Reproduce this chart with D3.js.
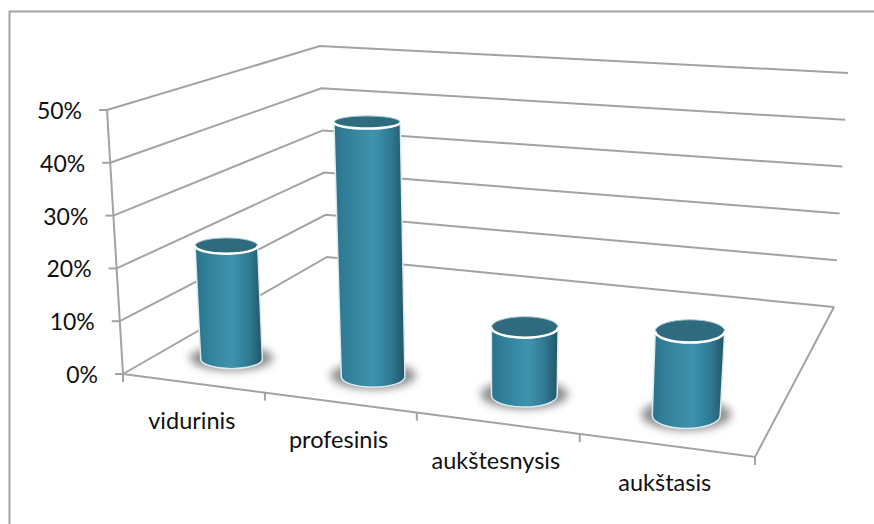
<!DOCTYPE html>
<html>
<head>
<meta charset="utf-8">
<title>Išsilavinimas</title>
<script src="https://cdn.jsdelivr.net/npm/d3@7"></script>
<style>
  html, body { margin: 0; padding: 0; background: #ffffff; }
  svg { display: block; }
  text { font-family: Lato, "Open Sans", sans-serif; fill: #111111; }
  text.ylabel { font-size: 23px; }
  text.xlabel { font-size: 23.5px; }
</style>
</head>
<body>
<div id="chart"></div>
<script>
////////////////////////////////////////////////////////////////////////
// Chart data
////////////////////////////////////////////////////////////////////////
var categories = ["vidurinis", "profesinis", "aukštesnysis", "aukštasis"];
var values = [22, 48, 12.5, 15];
var valueTicks = [0, 10, 20, 30, 40, 50];

////////////////////////////////////////////////////////////////////////
// The 3D box as it lies on screen: [front-left, front-right, back-right, back-left]
////////////////////////////////////////////////////////////////////////
var floorCorners = [[123, 374], [755, 457], [834, 307], [327, 257]];
var roofCorners = [[107, 110], [775, 158], [848, 73], [320, 46]];

var width = 874;
var height = 524;
var gridColor = "#a3a3a3";
var barDepth = 0.165;      //where the bars stand between front (0) and back (1)
var ellipseRatio = 0.0026;   //ellipse flatness per pixel of box depth


////////////////////////////////////////////////////////////////////////
//
// Build a function mapping the unit square on to a four corner shape
//
////////////////////////////////////////////////////////////////////////
function makeHomography(q)
  {
  var dx1 = q[1][0] - q[2][0], dx2 = q[3][0] - q[2][0], dx3 = q[0][0] - q[1][0] + q[2][0] - q[3][0];
  var dy1 = q[1][1] - q[2][1], dy2 = q[3][1] - q[2][1], dy3 = q[0][1] - q[1][1] + q[2][1] - q[3][1];
  var det = dx1 * dy2 - dx2 * dy1;
  var g = (dx3 * dy2 - dx2 * dy3) / det;
  var h = (dx1 * dy3 - dx3 * dy1) / det;
  var a = q[1][0] - q[0][0] + g * q[1][0];
  var b = q[3][0] - q[0][0] + h * q[3][0];
  var d = q[1][1] - q[0][1] + g * q[1][1];
  var e = q[3][1] - q[0][1] + h * q[3][1];

  return function(u, v)
    {
    var w = g * u + h * v + 1;
    return [(a * u + b * v + q[0][0]) / w, (d * u + e * v + q[0][1]) / w];
    };
  }


var floorMap = makeHomography(floorCorners);
var roofMap = makeHomography(roofCorners);

var uScale = d3.scaleBand().domain(categories).range([0, 1]).paddingInner(0.55).paddingOuter(0.275);
var zScale = d3.scaleLinear().domain([0, 50]).range([0, 1]);

////////////////////////////////////////////////////////////////////////
//
// Screen position of a point in the box, value is the chart value
//
////////////////////////////////////////////////////////////////////////
function project(u, v, value)
  {
  var low = floorMap(u, v);
  var high = roofMap(u, v);
  var z = zScale(value);
  return [low[0] + (high[0] - low[0]) * z, low[1] + (high[1] - low[1]) * z];
  }


var svg = d3.select("#chart").append("svg").attr("width", width).attr("height", height);
var defs = svg.append("defs");

var gradient = defs.append("linearGradient").attr("id", "barFill");
gradient.selectAll("stop")
  .data([[0, "#2b7089"], [0.12, "#2f7c96"], [0.55, "#3f93ae"], [0.8, "#2f7a93"], [1, "#245466"]])
  .enter().append("stop")
  .attr("offset", function(d) { return d[0]; })
  .attr("stop-color", function(d) { return d[1]; });

defs.append("filter").attr("id", "blur").attr("x", "-30%").attr("y", "-60%").attr("width", "160%").attr("height", "220%")
  .append("feGaussianBlur").attr("stdDeviation", 4);

//Outer frame, only the top and left edges are in the picture
svg.append("path")
  .attr("d", d3.line()([[9.5, height], [9.5, 11.5], [width, 11.5]]))
  .attr("fill", "none")
  .attr("stroke", gridColor)
  .attr("stroke-width", 2);

////////////////////////////////////////////////////////////////////////
// Walls and gridlines
////////////////////////////////////////////////////////////////////////
var line = d3.line();
var grid = svg.append("g").attr("fill", "none").attr("stroke", gridColor).attr("stroke-width", 2);

grid.selectAll("path.gridline")
  .data(valueTicks)
  .enter().append("path")
  .attr("class", "gridline")
  .attr("d", function(d) { return line([project(0, 0, d), project(0, 1, d), project(1, 1, d)]); });

//Left axis with its ticks
grid.append("path").attr("d", line([project(0, 0, 0), project(0, 0, 50)]));
grid.selectAll("path.ytick")
  .data(valueTicks)
  .enter().append("path")
  .attr("class", "ytick")
  .attr("d", function(d)
    {
    var p = project(0, 0, d);
    return line([[p[0] - 8, p[1]], p]);
    });

//Floor outline with the category ticks below it
grid.append("path").attr("d", line([project(0, 0, 0), project(1, 0, 0), project(1, 1, 0)]));
grid.selectAll("path.xtick")
  .data(d3.range(categories.length + 1))
  .enter().append("path")
  .attr("class", "xtick")
  .attr("d", function(d)
    {
    var p = project(d / categories.length, 0, 0);
    return line([p, [p[0], p[1] + 8]]);
    });

////////////////////////////////////////////////////////////////////////
// Tick labels
////////////////////////////////////////////////////////////////////////
svg.selectAll("text.ylabel")
  .data(valueTicks)
  .enter().append("text")
  .attr("class", "ylabel")
  .attr("text-anchor", "end")
  .attr("x", function(d) { return project(0, 0, d)[0] - 25; })
  .attr("y", function(d) { return project(0, 0, d)[1] + 9; })
  .text(function(d) { return d + "%"; });

svg.selectAll("text.xlabel")
  .data(categories)
  .enter().append("text")
  .attr("class", "xlabel")
  .attr("text-anchor", "middle")
  .attr("x", function(d) { return project(uScale(d) + uScale.bandwidth() / 2, 0, 0)[0] - 1; })
  .attr("y", function(d) { return project(uScale(d) + uScale.bandwidth() / 2, 0, 0)[1] + 46; })
  .text(function(d) { return d; });

////////////////////////////////////////////////////////////////////////
//
// Ellipse of a cylinder at the given category and value
//
////////////////////////////////////////////////////////////////////////
function barEllipse(category, value)
  {
  var u = uScale(category);
  var left = project(u, barDepth, value);
  var right = project(u + uScale.bandwidth(), barDepth, value);
  var uMid = u + uScale.bandwidth() / 2;
  var depth = project(uMid, 0, value)[1] - project(uMid, 1, value)[1];

  //the bars widen less towards the front than the floor does
  var rx = (right[0] - left[0]) / 2 * (1.017 - 0.133 * uMid);

  return {
    cx: (left[0] + right[0]) / 2,
    cy: (left[1] + right[1]) / 2,
    rx: rx,
    ry: rx * depth * ellipseRatio
    };
  }


////////////////////////////////////////////////////////////////////////
// Cylinders
////////////////////////////////////////////////////////////////////////
var barData = categories.map(function(c, i)
  {
  return {base: barEllipse(c, 0), top: barEllipse(c, values[i])};
  });

var bars = svg.selectAll("g.bar").data(barData).enter().append("g").attr("class", "bar");

//Soft shadow on the floor
bars.append("ellipse")
  .attr("cx", function(d) { return d.base.cx; })
  .attr("cy", function(d) { return d.base.cy - 1; })
  .attr("rx", function(d) { return d.base.rx + 11; })
  .attr("ry", function(d) { return d.base.ry + 3; })
  .attr("fill", "#4a4a4a")
  .attr("opacity", 0.62)
  .attr("filter", "url(#blur)");

bars.append("path")
  .attr("fill", "url(#barFill)")
  .attr("stroke", "#dcebef")
  .attr("stroke-width", 1.5)
  .attr("d", function(d)
    {
    var b = d.base, t = d.top;
    return "M" + (t.cx - t.rx) + "," + t.cy +
      "L" + (b.cx - b.rx) + "," + b.cy +
      "A" + b.rx + "," + b.ry + " 0 0 0 " + (b.cx + b.rx) + "," + b.cy +
      "L" + (t.cx + t.rx) + "," + t.cy +
      "A" + t.rx + "," + t.ry + " 0 0 1 " + (t.cx - t.rx) + "," + t.cy + "Z";
    });

bars.append("ellipse")
  .attr("cx", function(d) { return d.top.cx; })
  .attr("cy", function(d) { return d.top.cy; })
  .attr("rx", function(d) { return d.top.rx; })
  .attr("ry", function(d) { return d.top.ry; })
  .attr("fill", "#2f6b7e")
  .attr("stroke", "#a9c6cf")
  .attr("stroke-width", 1);

//Bright rim along the front of the top
bars.append("path")
  .attr("fill", "none")
  .attr("stroke", "#ffffff")
  .attr("stroke-width", 2.5)
  .attr("d", function(d)
    {
    var t = d.top;
    return "M" + (t.cx - t.rx) + "," + t.cy + "A" + t.rx + "," + t.ry + " 0 0 0 " + (t.cx + t.rx) + "," + t.cy;
    });
</script>
</body>
</html>
